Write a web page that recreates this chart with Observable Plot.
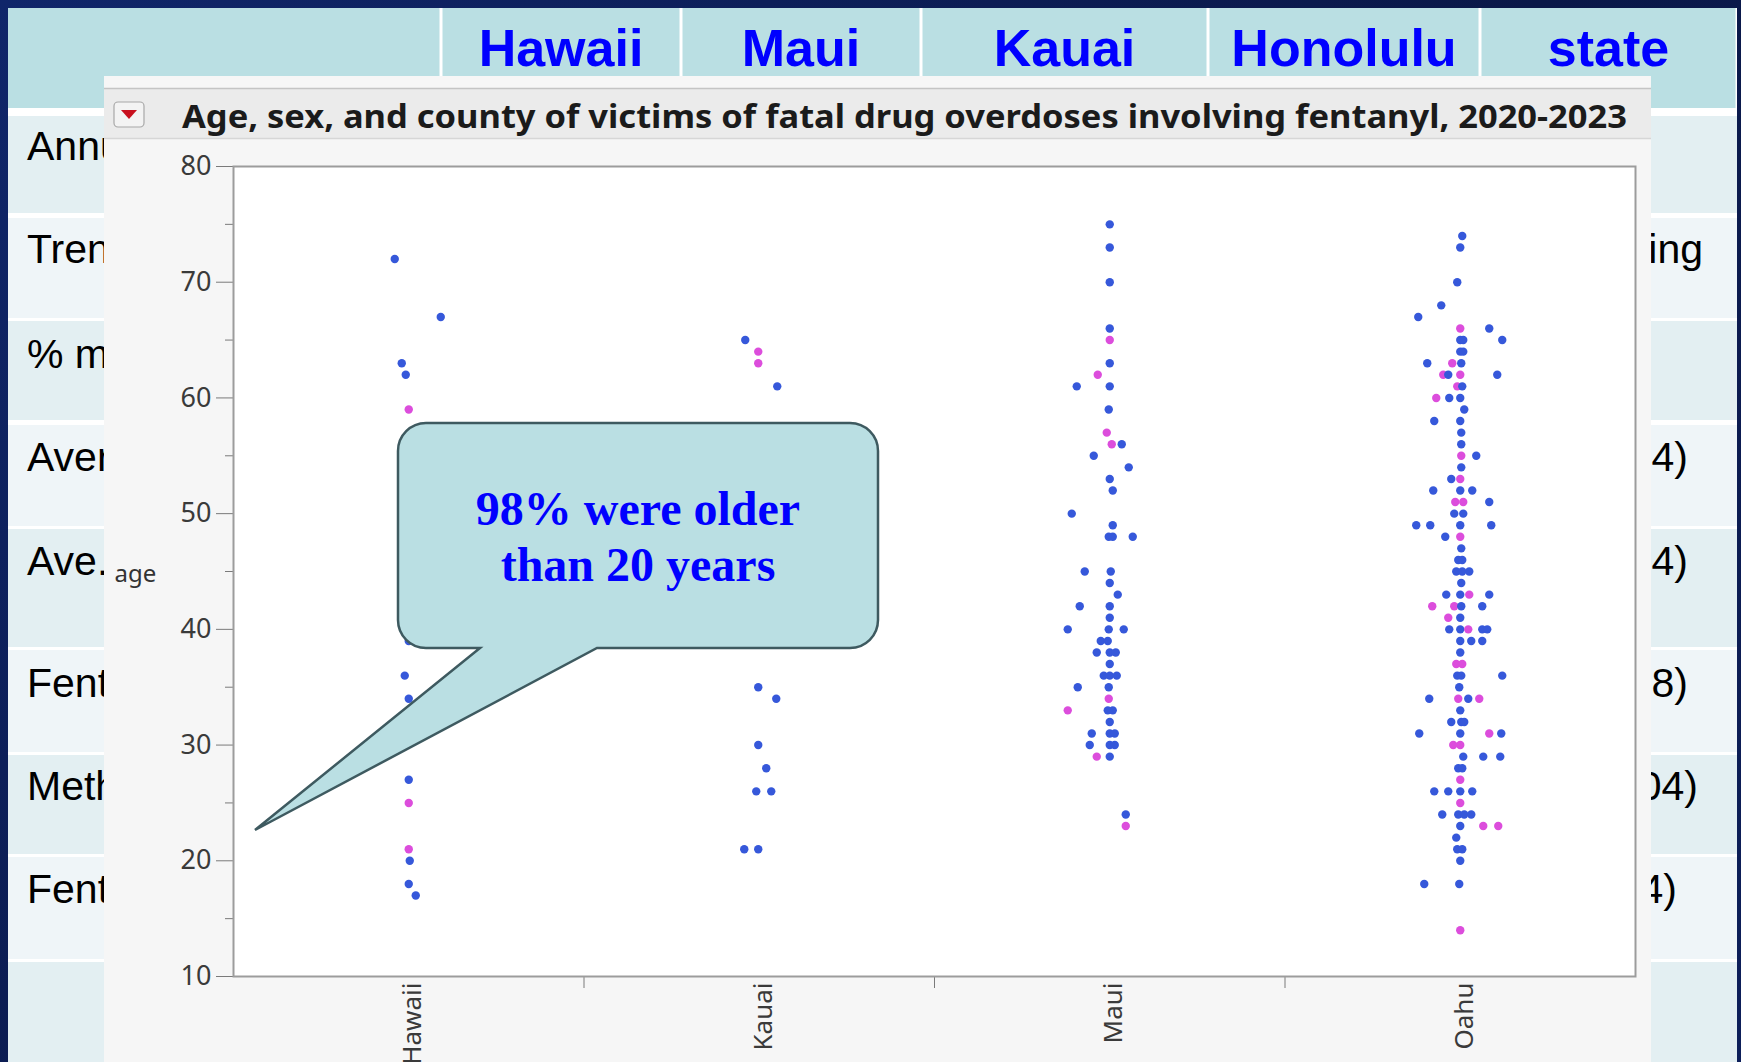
<!DOCTYPE html>
<html><head><meta charset="utf-8">
<script src="https://cdn.jsdelivr.net/npm/d3@7"></script>
<script src="https://cdn.jsdelivr.net/npm/@observablehq/plot@0.6"></script>
<style>
html,body{margin:0;padding:0;}
body{width:1741px;height:1062px;overflow:hidden;position:relative;background:linear-gradient(135deg,#10266a 0%,#0a1848 55%,#0d1f5a 100%);}
.abs{position:absolute;}
</style></head><body>
<script>
// ---------------- data ----------------
const counties = ["Hawaii", "Kauai", "Maui", "Oahu"];
// [age, horizontal jitter (px, as drawn by JMP), sex]
const hawaiiPts = [[72,-14,"M"],[67,32,"M"],[63,-7,"M"],[62,-3,"M"],[59,0,"F"],[39,0,"M"],[36,-4,"M"],[34,0,"M"],[27,0,"M"],[25,0,"F"],[21,0,"F"],[20,1,"M"],[18,0,"M"],[17,7,"M"]];
const kauaiPts = [[65,-14,"M"],[64,-1,"F"],[63,-1,"F"],[61,18,"M"],[35,-1,"M"],[34,17,"M"],[30,-1,"M"],[28,7,"M"],[26,-3,"M"],[26,12,"M"],[21,-15,"M"],[21,-1,"M"]];
const mauiPts = [[75,0,"M"],[73,0,"M"],[70,0,"M"],[66,0,"M"],[65,0,"F"],[63,0,"M"],[62,-12,"F"],[61,-33,"M"],[61,0,"M"],[59,-1,"M"],[57,-3,"F"],[56,2,"F"],[56,12,"M"],[55,-16,"M"],[54,19,"M"],[53,0,"M"],[52,3,"M"],[50,-38,"M"],[49,3,"M"],
  [48,-1,"M"],[48,3,"M"],[48,23,"M"],[45,-25,"M"],[45,1,"M"],[44,0,"M"],[43,8,"M"],[42,-30,"M"],[42,0,"M"],[41,0,"M"],[40,-42,"M"],[40,-1,"M"],[40,14,"M"],[39,-9,"M"],[39,-2,"M"],[38,-13,"M"],[38,0,"M"],[38,6,"M"],[37,0,"M"],[36,-6,"M"],[36,0,"M"],[36,7,"M"],[35,-32,"M"],[35,-1,"M"],[34,-1,"F"],[33,-42,"F"],[33,-2,"M"],[33,3,"M"],[32,0,"M"],[31,-18,"M"],[31,0,"M"],[31,5,"M"],[30,-20,"M"],[30,0,"M"],[30,5,"M"],[29,-13,"F"],[29,0,"M"],[24,16,"M"],[23,16,"F"]];
const oahuPts = [[74,2,"M"],[73,0,"M"],[70,-3,"M"],[68,-19,"M"],[67,-42,"M"],[66,0,"F"],[66,29,"M"],[65,0,"M"],[65,3,"M"],[65,42,"M"],[64,0,"M"],[64,3,"M"],
  [63,-33,"M"],[63,-8,"F"],[63,1,"M"],[62,-17,"F"],[62,-12,"M"],[62,0,"F"],[62,37,"M"],[61,-3,"F"],[61,2,"M"],[60,-24,"F"],[60,-11,"M"],[60,0,"M"],[59,4,"M"],[58,-26,"M"],[58,0,"M"],[57,1,"M"],[56,1,"M"],[55,1,"F"],[55,16,"M"],[54,1,"M"],[53,-9,"M"],[53,0,"F"],
  [52,-27,"M"],[52,0,"M"],[52,12,"M"],[51,-5,"F"],[51,3,"F"],[51,29,"M"],[50,-6,"M"],[50,3,"M"],[49,-44,"M"],[49,-30,"M"],[49,0,"M"],[49,31,"M"],[48,-15,"M"],[48,0,"F"],[47,1,"M"],[46,-2,"M"],[46,2,"M"],[45,-4,"M"],[45,2,"M"],[45,9,"M"],[44,1,"M"],
  [43,-14,"M"],[43,0,"M"],[43,9,"F"],[43,29,"M"],[42,-28,"F"],[42,-6,"F"],[42,1,"M"],[42,22,"M"],[41,-12,"F"],[41,0,"M"],[40,-11,"M"],[40,0,"M"],[40,8,"F"],[40,22,"M"],[40,27,"M"],[39,0,"M"],[39,11,"M"],[39,22,"M"],[38,0,"M"],[37,-4,"F"],[37,2,"F"],
  [36,-3,"M"],[36,1,"M"],[36,42,"M"],[35,-1,"M"],[34,-31,"M"],[34,-2,"F"],[34,8,"M"],[34,19,"F"],[33,0,"M"],[32,-9,"M"],[32,1,"M"],[32,4,"M"],[31,-41,"M"],[31,0,"M"],[31,29,"F"],[31,41,"M"],[30,-7,"F"],[30,0,"F"],[29,3,"M"],[29,23,"M"],[29,40,"M"],
  [28,-2,"M"],[28,2,"M"],[27,0,"F"],[26,-26,"M"],[26,-12,"M"],[26,0,"M"],[26,12,"M"],[25,0,"F"],[24,-18,"M"],[24,-2,"M"],[24,4,"M"],[24,11,"M"],[23,0,"M"],[23,23,"F"],[23,38,"F"],[22,-4,"M"],[21,-3,"M"],[21,2,"M"],[20,0,"M"],[18,-36,"M"],[18,-1,"M"],[14,0,"F"]];
const yTicks = [10, 20, 30, 40, 50, 60, 70, 80];
const yMinorTicks = [15, 25, 35, 45, 55, 65, 75];
const chartTitle = "Age, sex, and county of victims of fatal drug overdoses involving fentanyl, 2020-2023";
const yLabel = "age";
const calloutLines = ["98% were older", "than 20 years"];
const headerLabels = ["", "Hawaii", "Maui", "Kauai", "Honolulu", "state"];
const rowLabelsLeft = ["Annual deaths", "Trend", "% male", "Average age", "Ave. age", "Fentanyl", "Methamphetamine", "Fentanyl", ""];
const rowLabelsRight = ["", "increasing", "", "(14)", "(24)", "(18)", "(104)", "(14)", ""];

// ---------------- layout ----------------
const headerCols = [8, 441, 681, 921, 1208, 1480, 1737];
const rowBands = [[116,213],[218,318],[321,420],[425,526],[529,647],[650,752],[755,854],[857,959],[962,1070]];
const rowBaselines = [160, 263, 368, 471, 575, 697, 800, 903, 1000];
const rightEnds = [0, 1703, 0, 1688, 1688, 1688, 1698, 1677, 0];

// ----- slide table background -----
const bg = d3.select(document.body).append("svg").attr("class","abs")
  .attr("width",1741).attr("height",1062).style("left","0px").style("top","0px");
bg.append("rect").attr("x",8).attr("y",8).attr("width",1729).attr("height",1062).attr("fill","#ffffff");
for (let i = 0; i < headerCols.length - 1; i++) {
  bg.append("rect").attr("x", headerCols[i] + (i ? 1.5 : 0)).attr("y", 8)
    .attr("width", headerCols[i+1] - headerCols[i] - (i ? 1.5 : 0) - 1.5).attr("height", 100).attr("fill", "#badfe3");
  if (headerLabels[i]) bg.append("text").attr("x", (headerCols[i] + headerCols[i+1]) / 2).attr("y", 66)
    .attr("text-anchor","middle").attr("font-family","'Liberation Sans', Arial, sans-serif")
    .attr("font-weight","bold").attr("font-size",52).attr("fill","#0000ff").text(headerLabels[i]);
}
rowBands.forEach(([a,b], i) => {
  bg.append("rect").attr("x",8).attr("y",a).attr("width",1729).attr("height",b-a)
    .attr("fill", i % 2 === 0 ? "#e3eff2" : "#eff5f8");
  if (rowLabelsLeft[i]) bg.append("text").attr("x",27).attr("y",rowBaselines[i])
    .attr("font-family","'Liberation Sans', Arial, sans-serif").attr("font-size",41).attr("fill","#000").text(rowLabelsLeft[i]);
  if (rowLabelsRight[i]) bg.append("text").attr("x",rightEnds[i]).attr("y",rowBaselines[i]).attr("text-anchor","end")
    .attr("font-family","'Liberation Sans', Arial, sans-serif").attr("font-size",41).attr("fill","#000").text(rowLabelsRight[i]);
});

// ----- JMP panel -----
const panel = d3.select(document.body).append("div").attr("class","abs")
  .style("left","104px").style("top","76px").style("width","1547px").style("height","986px")
  .style("background","#f6f6f6");
const head = panel.append("svg").attr("width",1547).attr("height",64).style("position","absolute").style("left","0px").style("top","0px");
head.append("rect").attr("x",0).attr("y",12).attr("width",1547).attr("height",51).attr("fill","#ebebeb");
head.append("line").attr("x1",0).attr("x2",1547).attr("y1",12.5).attr("y2",12.5).attr("stroke","#c4c4c4").attr("stroke-width",1.5);
head.append("line").attr("x1",0).attr("x2",1547).attr("y1",62.5).attr("y2",62.5).attr("stroke","#d6d6d6").attr("stroke-width",1.5);
head.append("rect").attr("x",10).attr("y",26).attr("width",30).attr("height",25).attr("rx",4)
  .attr("fill","#f3f3f3").attr("stroke","#a8a8a8").attr("stroke-width",1.2);
head.append("path").attr("d","M17,34 L33,34 L25,43 Z").attr("fill","#c8101e");
head.append("text").attr("x",78).attr("y",52).attr("font-family","'Noto Sans', 'Open Sans', sans-serif")
  .attr("font-weight","bold").attr("font-size",33).attr("fill","#1b1b1b")
  .attr("textLength",1445).attr("lengthAdjust","spacingAndGlyphs").text(chartTitle);

// ----- the chart -----
const W = 1547, H = 923, ml = 129, mr = 16, mt = 27, mb = 86;
const bandPx = (W - ml - mr) / counties.length;
const pts = [];
[hawaiiPts, kauaiPts, mauiPts, oahuPts].forEach((arr, i) =>
  arr.forEach(([age, jit, sex]) => pts.push({county: counties[i], idx: i, age, jit, sex})));

const chart = Plot.plot({
  width: W, height: H,
  marginLeft: ml, marginRight: mr, marginTop: mt, marginBottom: mb,
  style: {background: "transparent", fontFamily: "'Noto Sans', sans-serif", color: "#333"},
  x: {type: "linear", domain: [-0.5, 3.5]},
  y: {domain: [10, 80]},
  color: {domain: ["M", "F"], range: ["#3658da", "#dc4ddc"]},
  marks: [
    Plot.frame({fill: "#ffffff"}),
    Plot.axisY({ticks: yTicks, tickSize: 17, tickPadding: 5, fontSize: 27, label: null, stroke: "#7a7a7a", fill: "#3a3a3a"}),
    Plot.axisY({ticks: yMinorTicks, tickSize: 8, tickFormat: () => "", label: null, stroke: "#7a7a7a"}),
    Plot.axisX({ticks: [0, 1, 2, 3], tickFormat: i => counties[i], tickSize: 0, tickPadding: 6, tickRotate: -90, fontSize: 26, label: null, fill: "#3a3a3a", dx: 4}),
    Plot.axisX({ticks: [0.5, 1.5, 2.5], tickSize: 12, tickFormat: () => "", label: null, stroke: "#7a7a7a"}),
    Plot.dot(pts, {x: d => d.idx + d.jit / bandPx, y: "age", r: 4.2, fill: "sex", stroke: null}),
    Plot.frame({stroke: "#9c9c9c", strokeWidth: 2}),
    Plot.text([yLabel], {frameAnchor: "left", dx: -119, dy: 3, textAnchor: "start", fontSize: 24, fill: "#333"})
  ]
});
chart.style.position = "absolute";
chart.style.left = "0px";
chart.style.top = "63px";
panel.node().appendChild(chart);

// ----- callout annotation -----
const co = d3.select(document.body).append("svg").attr("class","abs")
  .attr("width",1741).attr("height",1062).style("left","0px").style("top","0px").style("pointer-events","none");
co.append("path")
  .attr("d","M426,423 H850 A28,28 0 0 1 878,451 V620 A28,28 0 0 1 850,648 H597 L255,830 L480,648 H426 A28,28 0 0 1 398,620 V451 A28,28 0 0 1 426,423 Z")
  .attr("fill","#badfe3").attr("stroke","#3e5a60").attr("stroke-width",2.5).attr("stroke-linejoin","miter");
calloutLines.forEach((t, i) => co.append("text").attr("x",638).attr("y",[525,581][i]).attr("text-anchor","middle")
  .attr("font-family","'Liberation Serif', 'Times New Roman', serif").attr("font-weight","bold")
  .attr("font-size",48).attr("fill","#0000ff").text(t));
</script>
</body></html>
